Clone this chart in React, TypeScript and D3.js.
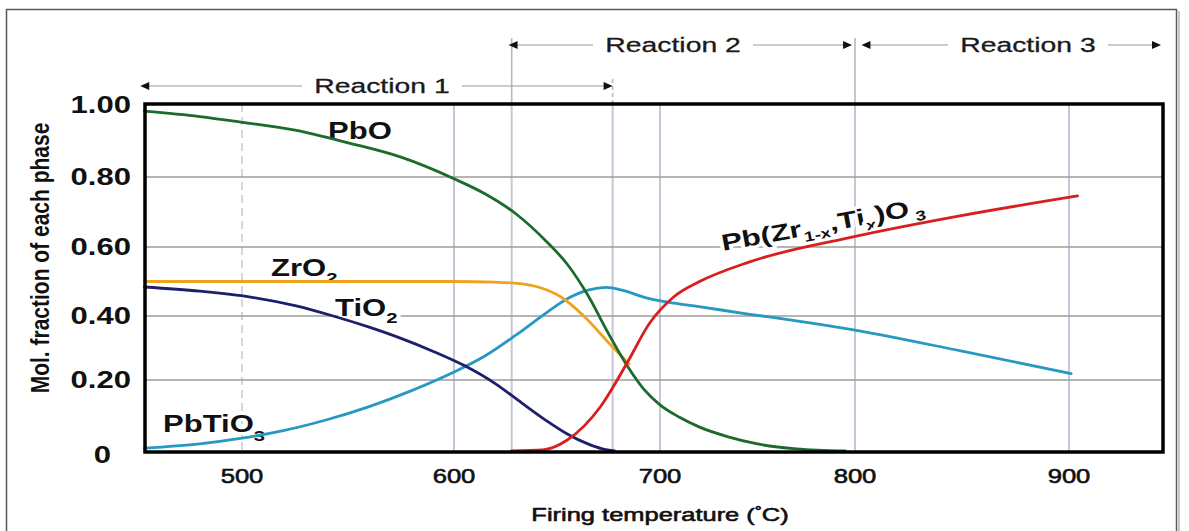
import React from 'react';
import * as d3 from 'd3';

// ---------- data ----------
const xTicks = [500, 600, 700, 800, 900];
const yTicks = [0, 0.2, 0.4, 0.6, 0.8, 1.0];
const yTickLabels = ['0', '0.20', '0.40', '0.60', '0.80', '1.00'];
const gridTemps = [600, 628, 677, 700, 800, 900];
const dashedGridTemps = [500];

const pboT = [454, 480, 500, 525, 550, 575, 600, 615, 630, 645, 655, 665, 675, 685, 692, 700, 710, 720, 735, 750, 770, 795];
const pboV = [0.983, 0.968, 0.952, 0.93, 0.895, 0.855, 0.795, 0.752, 0.695, 0.615, 0.55, 0.46, 0.345, 0.235, 0.175, 0.13, 0.095, 0.068, 0.04, 0.02, 0.006, 0];

const zro2T = [454, 500, 550, 600, 620, 632, 642, 652, 663, 676, 685];
const zro2V = [0.5, 0.5, 0.5, 0.5, 0.498, 0.494, 0.482, 0.455, 0.4, 0.31, 0.25];

const tio2T = [454, 480, 504, 525, 543, 560, 575, 590, 605, 620, 633, 645, 655, 665, 672, 678];
const tio2V = [0.484, 0.472, 0.455, 0.43, 0.4, 0.365, 0.33, 0.29, 0.245, 0.19, 0.135, 0.085, 0.048, 0.02, 0.006, 0];

const pbtio3T = [454, 480, 500, 520, 540, 560, 580, 600, 615, 630, 645, 655, 665, 674, 682, 692, 704, 720, 746, 770, 800, 850, 901];
const pbtio3V = [0.008, 0.02, 0.036, 0.058, 0.088, 0.125, 0.17, 0.225, 0.275, 0.34, 0.41, 0.45, 0.475, 0.483, 0.474, 0.455, 0.44, 0.427, 0.405, 0.385, 0.356, 0.29, 0.22];

const pztT = [628, 643, 655, 671, 684, 695, 707, 720, 746, 799, 849, 904];
const pztV = [0, 0.003, 0.031, 0.124, 0.253, 0.378, 0.455, 0.499, 0.557, 0.629, 0.689, 0.746];

const reactionNames = ['Reaction 1', 'Reaction 2', 'Reaction 3'];
const reactionStart = [452, 626.5, 803];
const reactionEnd = [677, 798.5, 943];
const reactionTextAt = [566, 706.7, 880.8];

// ---------- layout ----------
const W = 1189;
const H = 531;
const FONT = "'Liberation Sans', Arial, Helvetica, sans-serif";
const SX = 1.35;

const x = d3.scaleLinear().domain([500, 600, 700, 800, 900]).range([242, 454, 660, 855, 1069]);
const y = d3.scaleLinear().domain([0, 0.2, 0.4, 0.6, 0.8, 1.0]).range([451, 380, 316, 247, 177, 105]);

const plotLeft = 145;
const plotRight = 1163;
const plotTop = y(1.0) - 1;
const plotBottom = y(0) + 1;

const line = d3
  .line<[number, number]>()
  .x((d) => x(d[0]))
  .y((d) => y(d[1]))
  .curve(d3.curveMonotoneX);

const zip = (a: number[], b: number[]) => a.map((t, i) => [t, b[i]] as [number, number]);

const series = [
  { name: 'PbTiO3', t: pbtio3T, v: pbtio3V, color: '#2698c2' },
  { name: 'ZrO2', t: zro2T, v: zro2V, color: '#f0a21c' },
  { name: 'TiO2', t: tio2T, v: tio2V, color: '#1d1f6b' },
  { name: 'PbO', t: pboT, v: pboV, color: '#1b6b2c' },
  { name: 'PZT', t: pztT, v: pztV, color: '#d81f1f' },
];

function SText(props: {
  x: number;
  y: number;
  size: number;
  weight?: string;
  anchor?: string;
  rotate?: number;
  sx?: number;
  fill?: string;
  halo?: boolean;
  children: React.ReactNode;
  stroke?: string;
  strokeWidth?: number;
}) {
  const { x: px, y: py, size, weight = 'bold', anchor = 'start', rotate = 0, sx = SX, fill = '#111', halo = false } = props;
  return (
    <text
      transform={`translate(${px},${py}) rotate(${rotate}) scale(${sx},1)`}
      fontFamily={FONT}
      fontSize={size}
      fontWeight={weight}
      textAnchor={anchor as any}
      fill={fill}
      stroke={halo ? '#fff' : props.stroke || 'none'}
      strokeWidth={halo ? 6 : props.strokeWidth || 0}
      strokeLinejoin="round"
      style={{ paintOrder: 'stroke' }}
    >
      {props.children}
    </text>
  );
}

function Arrow({ tip, yy, dir }: { tip: number; yy: number; dir: number }) {
  const b = tip - dir * 9;
  return <polygon points={`${tip},${yy} ${b},${yy - 4} ${b},${yy + 4}`} fill="#111" />;
}

export default function App() {
  const reactionY = [86, 45, 45];
  const textHalf = 68;
  return (
    <svg
      width={W}
      height={H}
      viewBox={`0 0 ${W} ${H}`}
      style={{ position: 'absolute', left: 0, top: 0, background: '#fff' }}
    >
      <rect x={0} y={0} width={W} height={H} fill="#fff" />
      {/* outer frame */}
      <rect x={6.5} y={9.5} width={1170} height={560} fill="none" stroke="#5a5a5a" strokeWidth={1.5} />
      <line x1={1179} y1={11} x2={1179} y2={H} stroke="#c8c8c8" strokeWidth={2} />

      {/* vertical grid lines */}
      {dashedGridTemps.map((t) => (
        <line key={'dg' + t} x1={x(t)} x2={x(t)} y1={plotTop} y2={plotBottom} stroke="#d4d5e4" strokeWidth={2} strokeDasharray="8,5" />
      ))}
      {gridTemps.map((t) => (
        <line key={'g' + t} x1={x(t)} x2={x(t)} y1={plotTop} y2={plotBottom} stroke="#c6c7d6" strokeWidth={2} />
      ))}
      {/* horizontal grid lines */}
      {yTicks.filter((v) => v > 0 && v < 1).map((v) => (
        <line key={'h' + v} x1={plotLeft} x2={plotRight} y1={y(v)} y2={y(v)} stroke="#9c9c9c" strokeWidth={1.6} />
      ))}

      {/* reaction boundary extensions above plot */}
      <line x1={x(628)} x2={x(628)} y1={plotTop} y2={38} stroke="#b8b8c4" strokeWidth={1.6} />
      <line x1={x(677)} x2={x(677)} y1={plotTop} y2={78} stroke="#b8b8c4" strokeWidth={1.6} strokeDasharray="4,3" />
      <line x1={x(800)} x2={x(800)} y1={plotTop} y2={38} stroke="#b8b8c4" strokeWidth={1.6} />

      {/* reaction arrows */}
      {reactionNames.map((name, i) => {
        const x0 = x(reactionStart[i]);
        const x1 = x(reactionEnd[i]);
        const xc = x(reactionTextAt[i]);
        const yy = reactionY[i];
        return (
          <g key={name}>
            <line x1={x0 + 8} x2={xc - textHalf - 12} y1={yy} y2={yy} stroke="#9a9a9a" strokeWidth={1.2} />
            <line x1={xc + textHalf + 12} x2={x1 - 8} y1={yy} y2={yy} stroke="#9a9a9a" strokeWidth={1.2} />
            <Arrow tip={x0} yy={yy} dir={-1} />
            <Arrow tip={x1} yy={yy} dir={1} />
            <SText x={xc} y={yy + 7} size={21} weight="normal" anchor="middle" fill="#1a1a1a" stroke="#1a1a1a" strokeWidth={0.3}>
              {name}
            </SText>
          </g>
        );
      })}

      {/* series labels (with white halo so they break the grid lines) */}
      <SText x={328} y={139} size={23} halo>
        PbO
      </SText>
      <SText x={271} y={276} size={23} halo>
        ZrO<tspan fontSize={15} dy={7}>2</tspan>
      </SText>
      <SText x={335} y={316} size={23} halo>
        TiO<tspan fontSize={15} dy={7}>2</tspan>
      </SText>
      <SText x={163} y={432} size={23} halo>
        PbTiO<tspan fontSize={15} dy={9}>3</tspan>
      </SText>
      <SText x={723} y={251} size={23} rotate={-10.5} halo>
        Pb(Zr<tspan fontSize={14} dy={6} dx={1}>1-x</tspan>
        <tspan dy={-6}>,Ti</tspan>
        <tspan fontSize={14} dy={6}>x</tspan>
        <tspan dy={-6}>)O</tspan>
        <tspan fontSize={14} dy={6} dx={4}>3</tspan>
      </SText>

      {/* curves */}
      {series.map((s) => (
        <path key={s.name} d={line(zip(s.t, s.v)) || ''} fill="none" stroke={s.color} strokeWidth={2.8} strokeLinecap="round" />
      ))}

      {/* plot frame */}
      <rect
        x={plotLeft}
        y={plotTop}
        width={plotRight - plotLeft}
        height={plotBottom - plotTop}
        fill="none"
        stroke="#000"
        strokeWidth={3.5}
      />

      {/* y tick labels */}
      {yTicks.map((v, i) => (
        <SText
          key={'yl' + v}
          x={v === 0 ? 111 : 131}
          y={y(v) + 8 + (v === 0 ? 4 : 0)}
          size={23}
          anchor="end"
          fill="#111"
        >
          {yTickLabels[i]}
        </SText>
      ))}
      {/* x tick labels */}
      {xTicks.map((t) => (
        <SText key={'xl' + t} x={x(t)} y={483} size={21} weight="normal" anchor="middle" sx={1.22} stroke="#111" strokeWidth={0.6}>
          {String(t)}
        </SText>
      ))}

      {/* axis titles */}
      <text
        transform={`translate(49,258) rotate(-90) scale(1,1.2)`}
        fontFamily={FONT}
        fontSize={21}
        fontWeight="bold"
        textAnchor="middle"
        fill="#111"
      >
        Mol. fraction of each phase
      </text>
      <SText x={660} y={521} size={19} weight="normal" anchor="middle" sx={1.34} stroke="#111" strokeWidth={0.6}>
        Firing temperature (<tspan fontSize={13} dy={-6}>°</tspan>
        <tspan dy={6}>C)</tspan>
      </SText>
    </svg>
  );
}
